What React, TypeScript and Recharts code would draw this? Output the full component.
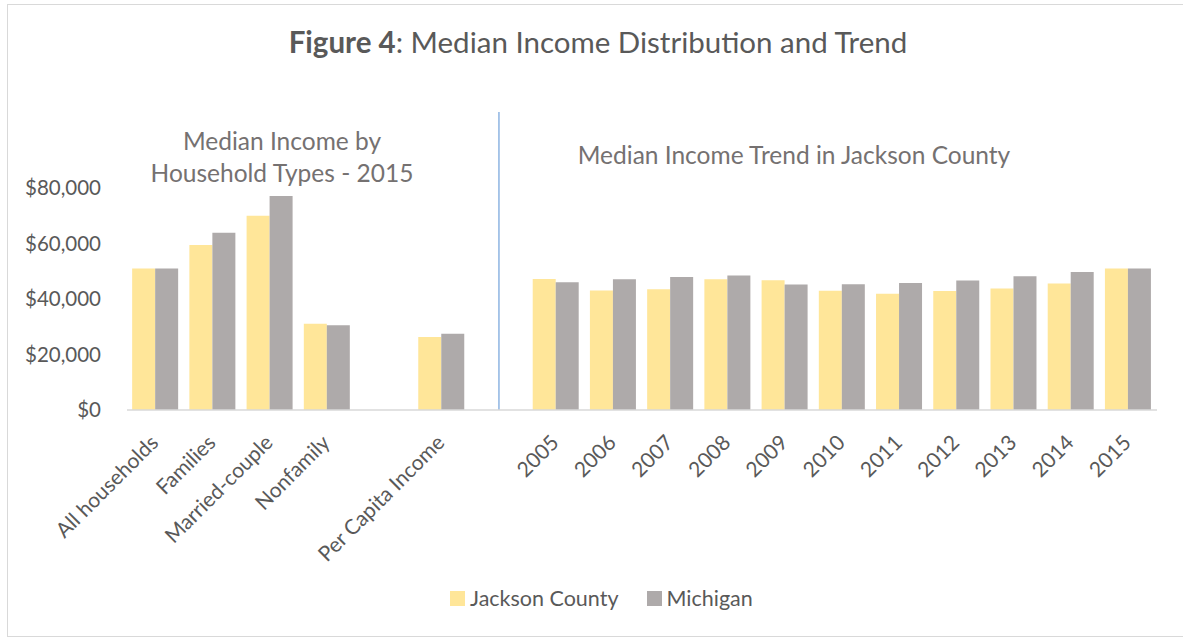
import { BarChart, Bar, XAxis, YAxis, Legend, ReferenceLine } from 'recharts'

const categories = [
  'All households',
  'Families',
  'Married-couple',
  'Nonfamily',
  '',
  'Per Capita Income',
  ' ',
  '2005',
  '2006',
  '2007',
  '2008',
  '2009',
  '2010',
  '2011',
  '2012',
  '2013',
  '2014',
  '2015',
]

const jackson = [
  51000, 59500, 70000, 31100, null, 26300, null, 47200, 43100, 43500, 47100, 46800, 43000, 41900,
  42900, 43800, 45600, 51000,
]

const michigan = [
  51000, 63900, 77100, 30500, null, 27500, null, 46000, 47100, 47900, 48500, 45200, 45300, 45800,
  46700, 48200, 49700, 51000,
]

const yTicks = [0, 20000, 40000, 60000, 80000]

const data = categories.map((name, i) => ({
  name,
  jackson: jackson[i],
  michigan: michigan[i],
}))

const FONT = 'Lato, "Open Sans", sans-serif'
const TEXT = '#595959'

function XTick({ x, y, payload }: any) {
  return (
    <g transform={`translate(${x},${y})`}>
      <text
        x={4}
        y={34}
        transform="rotate(-45 4 34)"
        textAnchor="end"
        fontFamily={FONT}
        fontSize={21}
        fill={TEXT}
      >
        {payload.value}
      </text>
    </g>
  )
}

function renderLegend(props: any) {
  const { payload } = props
  return (
    <div style={{ display: 'flex', alignItems: 'center', fontFamily: FONT, fontSize: 21.5, color: TEXT }}>
      {payload.map((p: any, i: number) => (
        <span key={i} style={{ display: 'flex', alignItems: 'center', marginRight: 28, lineHeight: '24px' }}>
          <span style={{ width: 15, height: 15, background: p.color, marginRight: 5, display: 'inline-block' }} />
          {p.value}
        </span>
      ))}
    </div>
  )
}

export default function App() {
  return (
    <div style={{ position: 'absolute', left: 0, top: 0, width: 1183, height: 638, background: '#fff', fontFamily: FONT }}>
      <div
        style={{
          position: 'absolute',
          left: 7,
          top: 4,
          width: 1200,
          height: 633,
          boxSizing: 'border-box',
          border: '1.5px solid #d9d9d9',
        }}
      />
      <BarChart
        width={1183}
        height={638}
        data={data}
        margin={{ top: 112, right: 26, bottom: 78, left: 27 }}
        barCategoryGap="9%"
        barGap={0}
      >
        <XAxis
          dataKey="name"
          interval={0}
          height={150}
          axisLine={{ stroke: '#d9d9d9', strokeWidth: 1.5 }}
          tickLine={false}
          tickSize={0}
          tickMargin={0}
          tick={<XTick />}
        />
        <YAxis
          width={100}
          domain={[0, 107400]}
          ticks={yTicks}
          axisLine={false}
          tickLine={false}
          tickSize={0}
          tickMargin={26}
          tickFormatter={(v: number) => `$${v.toLocaleString('en-US')}`}
          tick={{ fontFamily: FONT, fontSize: 20.5, fill: TEXT }}
        />
        <ReferenceLine x=" " stroke="#8db4e2" strokeWidth={1.5} />
        <Legend
          verticalAlign="middle"
          layout="horizontal"
          align="center"
          content={renderLegend}
          wrapperStyle={{ top: 586, left: 450, width: 'auto' }}
        />
        <Bar dataKey="jackson" name="Jackson County" fill="#ffe699" isAnimationActive={false} />
        <Bar dataKey="michigan" name="Michigan" fill="#aeaaaa" isAnimationActive={false} />
      </BarChart>
      <svg
        width={1183}
        height={638}
        style={{ position: 'absolute', left: 0, top: 0, pointerEvents: 'none' }}
        fontFamily={FONT}
      >
        <text x={598} y={53} textAnchor="middle" fontSize={29.5} fill={TEXT}>
          <tspan fontWeight="bold">Figure 4</tspan>
          <tspan>: Median Income Distribution and Trend</tspan>
        </text>
        <text x={282} y={150} textAnchor="middle" fontSize={24.5} fill="#757171">
          Median Income by
        </text>
        <text x={282} y={182} textAnchor="middle" fontSize={24.5} fill="#757171">
          Household Types - 2015
        </text>
        <text x={794} y={164} textAnchor="middle" fontSize={24.5} fill="#757171">
          Median Income Trend in Jackson County
        </text>
      </svg>
    </div>
  )
}
